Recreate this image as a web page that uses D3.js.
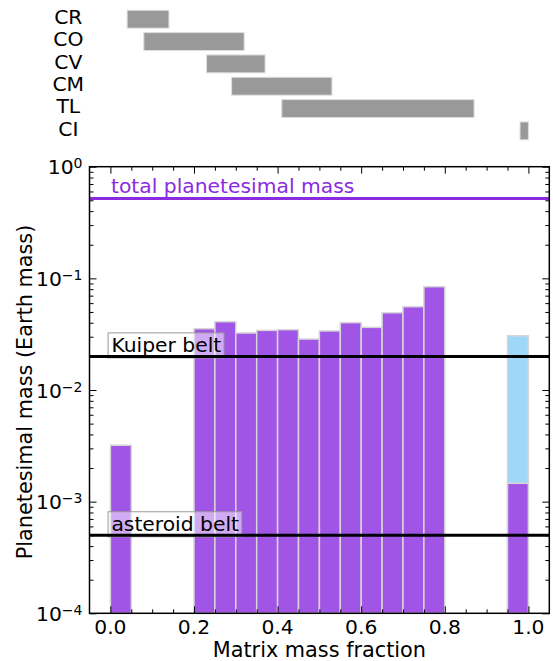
<!DOCTYPE html>
<html>
<head>
<meta charset="utf-8">
<script src="https://cdn.jsdelivr.net/npm/d3@7"></script>
<style>
  body { margin: 0; background: #fff; }
  svg { display: block; font-family: "DejaVu Sans", sans-serif; }
</style>
</head>
<body>
<div id="chart"></div>
<script>
// meteorite classes and their matrix mass fraction ranges
var classNames = ["CR", "CO", "CV", "CM", "TL", "CI"];
var classLow = [0.04, 0.08, 0.23, 0.29, 0.41, 0.98];
var classHigh = [0.14, 0.32, 0.37, 0.53, 0.87, 1.00];

// histogram bins (left edges, width 0.05) and planetesimal mass per bin
var binWidth = 0.05;
var binStart = [0.00, 0.20, 0.25, 0.30, 0.35, 0.40, 0.45, 0.50, 0.55, 0.60, 0.65, 0.70, 0.75, 0.95];
var binMass = [0.0032, 0.0354, 0.0409, 0.0324, 0.0342, 0.0347, 0.0286, 0.0338, 0.0401, 0.0364, 0.0492, 0.0557, 0.0842, 0.00146];
// extra (light blue) bar in the last bin
var extraStart = [0.95];
var extraMass = [0.0306];

// reference masses
var totalMass = 0.52;
var beltNames = ["Kuiper belt", "asteroid belt"];
var beltMass = [0.02, 0.0005];

var xTicks = [0.0, 0.2, 0.4, 0.6, 0.8, 1.0];
var yPowers = [-4, -3, -2, -1, 0];

var width = 553, height = 661;
var axLeft = 89.5, axRight = 549.3, axTop = 166.7, axBottom = 613.3;
var fs = 20.3;
var titleFs = 20.8;
var purple = "#8a2be2";

var svg = d3.select("#chart").append("svg")
	.attr("width", width)
	.attr("height", height);

var x = d3.scaleLinear().domain([-0.05, 1.05]).range([axLeft, axRight]);
var y = d3.scaleLog().domain([1e-4, 1]).range([axBottom, axTop]);

// ---- top panel: class ranges ----
var yc = d3.scaleBand()
	.domain(classNames)
	.range([8.05, 142.05])
	.paddingInner(0.2)
	.paddingOuter(0.1);

var classData = classNames.map(function(d, i) {
	return {name: d, lo: classLow[i], hi: classHigh[i]};
});

svg.selectAll(".classBar")
	.data(classData)
	.enter()
	.append("rect")
	.attr("class", "classBar")
	.attr("x", function(d) { return x(d.lo); })
	.attr("y", function(d) { return yc(d.name); })
	.attr("width", function(d) { return x(d.hi) - x(d.lo); })
	.attr("height", yc.bandwidth())
	.style("fill", "#999999")
	.style("stroke", "#dddddd")
	.style("stroke-width", 1);

svg.selectAll(".classLabel")
	.data(classData)
	.enter()
	.append("text")
	.attr("class", "classLabel")
	.attr("x", 68.3)
	.attr("y", function(d) { return yc(d.name) + yc.bandwidth() / 2 + 4.8; })
	.attr("text-anchor", "middle")
	.attr("font-size", fs)
	.attr("fill", "#000")
	.text(function(d) { return d.name; });

// ---- main panel ----
var plot = svg.append("g");

plot.selectAll(".extraBar")
	.data(extraStart.map(function(d, i) { return {x0: d, v: extraMass[i]}; }))
	.enter()
	.append("rect")
	.attr("class", "extraBar")
	.attr("x", function(d) { return x(d.x0); })
	.attr("y", function(d) { return y(d.v); })
	.attr("width", function(d) { return x(d.x0 + binWidth) - x(d.x0); })
	.attr("height", function(d) { return axBottom - y(d.v); })
	.style("fill", "#9fd7f8")
	.style("stroke", "#d6d6d6")
	.style("stroke-width", 1.5);

plot.selectAll(".massBar")
	.data(binStart.map(function(d, i) { return {x0: d, v: binMass[i]}; }))
	.enter()
	.append("rect")
	.attr("class", "massBar")
	.attr("x", function(d) { return x(d.x0); })
	.attr("y", function(d) { return y(d.v); })
	.attr("width", function(d) { return x(d.x0 + binWidth) - x(d.x0); })
	.attr("height", function(d) { return axBottom - y(d.v); })
	.style("fill", "#a155e6")
	.style("stroke", "#d6d6d6")
	.style("stroke-width", 1.5);

// labelled boxes for the belts
beltNames.forEach(function(name, i) {
	var t = plot.append("text")
		.attr("x", x(0) + 1)
		.attr("y", y(beltMass[i]) - 4)
		.attr("font-size", fs)
		.attr("fill", "#000")
		.text(name);
	var bb = t.node().getBBox();
	plot.insert("rect", function() { return t.node(); })
		.attr("x", bb.x - 3.3)
		.attr("y", bb.y - 0.5)
		.attr("width", bb.width + 6)
		.attr("height", bb.height + 1)
		.style("fill", "#fff")
		.style("fill-opacity", 0.5)
		.style("stroke", "#999")
		.style("stroke-width", 1);
});

plot.selectAll(".beltLine")
	.data(beltMass)
	.enter()
	.append("line")
	.attr("class", "beltLine")
	.attr("x1", axLeft)
	.attr("x2", axRight)
	.attr("y1", function(d) { return y(d); })
	.attr("y2", function(d) { return y(d); })
	.style("stroke", "#000")
	.style("stroke-width", 3);

plot.append("line")
	.attr("x1", axLeft)
	.attr("x2", axRight)
	.attr("y1", y(totalMass))
	.attr("y2", y(totalMass))
	.style("stroke", purple)
	.style("stroke-width", 3);

plot.append("text")
	.attr("x", x(0) + 0.6)
	.attr("y", y(totalMass) - 5)
	.attr("font-size", fs)
	.attr("fill", purple)
	.text("total planetesimal mass");

// ---- axes with inward ticks ----
var xMinor = d3.range(0, 21).map(function(i) { return i * 0.05; })
	.filter(function(d) { return Math.round(d * 100) % 20 !== 0; });
var yMinor = [];
yPowers.slice(0, -1).forEach(function(p) {
	for (var k = 2; k <= 9; k++) yMinor.push(k * Math.pow(10, p));
});
var yMajor = yPowers.map(function(p) { return Math.pow(10, p); });

function tickAxis(axisFn, scale, vals, len, pos) {
	return svg.append("g")
		.attr("transform", pos)
		.call(axisFn(scale).tickValues(vals).tickSize(-len).tickFormat(""))
		.call(function(g) { g.select(".domain").remove(); })
		.call(function(g) { g.selectAll("line").attr("stroke", "#000").attr("stroke-width", 1); });
}

tickAxis(d3.axisBottom, x, xTicks, 7, "translate(0," + axBottom + ")");
tickAxis(d3.axisBottom, x, xMinor, 4, "translate(0," + axBottom + ")");
tickAxis(d3.axisTop, x, xTicks, 7, "translate(0," + axTop + ")");
tickAxis(d3.axisTop, x, xMinor, 4, "translate(0," + axTop + ")");
tickAxis(d3.axisLeft, y, yMajor, 7, "translate(" + axLeft + ",0)");
tickAxis(d3.axisLeft, y, yMinor, 4, "translate(" + axLeft + ",0)");
tickAxis(d3.axisRight, y, yMajor, 7, "translate(" + axRight + ",0)");
tickAxis(d3.axisRight, y, yMinor, 4, "translate(" + axRight + ",0)");

svg.append("rect")
	.attr("x", axLeft)
	.attr("y", axTop)
	.attr("width", axRight - axLeft)
	.attr("height", axBottom - axTop)
	.style("fill", "none")
	.style("stroke", "#000")
	.style("stroke-width", 1.5);

// tick labels
svg.selectAll(".xLabel")
	.data(xTicks)
	.enter()
	.append("text")
	.attr("class", "xLabel")
	.attr("x", function(d) { return x(d); })
	.attr("y", 634.3)
	.attr("text-anchor", "middle")
	.attr("font-size", fs)
	.text(function(d) { return d3.format(".1f")(d); });

var yLab = svg.selectAll(".yLabel")
	.data(yPowers)
	.enter()
	.append("text")
	.attr("class", "yLabel")
	.attr("x", axLeft - 7)
	.attr("y", function(d) { return y(Math.pow(10, d)) + 7.6; })
	.attr("text-anchor", "end")
	.attr("font-size", fs);
yLab.append("tspan").text("10");
yLab.append("tspan")
	.attr("dy", -6)
	.attr("font-size", 14)
	.text(function(d) { return d === 0 ? "0" : "\u2212" + Math.abs(d); });

// axis titles
svg.append("text")
	.attr("x", (axLeft + axRight) / 2)
	.attr("y", 656.8)
	.attr("text-anchor", "middle")
	.attr("font-size", titleFs)
	.text("Matrix mass fraction");

svg.append("text")
	.attr("transform", "translate(31.5," + ((axTop + axBottom) / 2 + 2) + ") rotate(-90)")
	.attr("text-anchor", "middle")
	.attr("font-size", titleFs)
	.text("Planetesimal mass (Earth mass)");
</script>
</body>
</html>
